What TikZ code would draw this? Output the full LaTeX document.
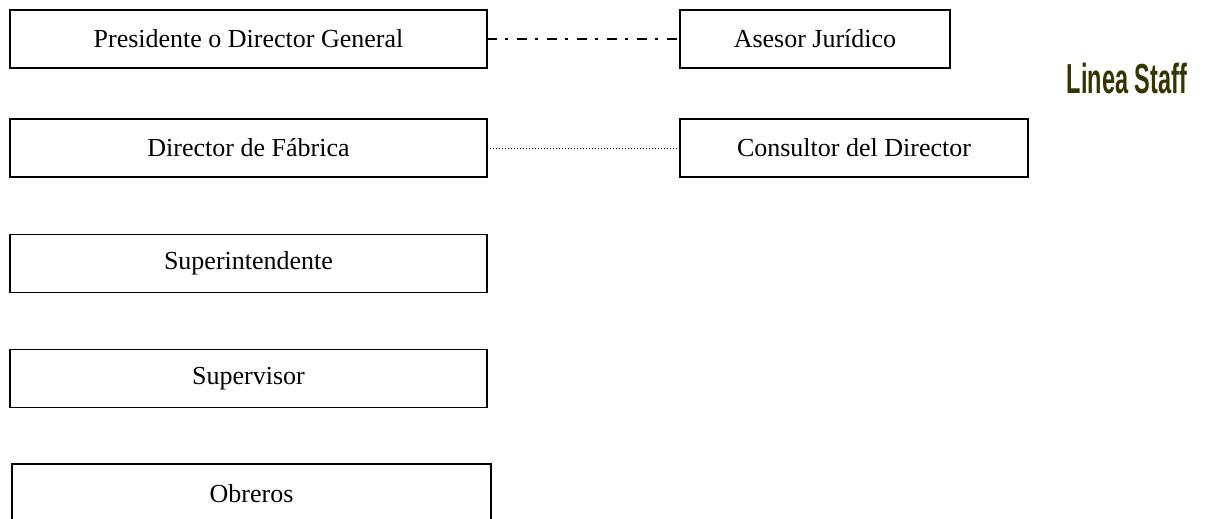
\documentclass[tikz,border=0pt]{standalone}
\usepackage{fontspec}
\setmainfont{Liberation Serif}
\newfontfamily\stafffont{Liberation Sans}
\definecolor{staffolive}{RGB}{55,52,0}
\begin{document}
\begin{tikzpicture}[x=1pt,y=-1pt,
  orgbox/.style={draw=black, line width=1.6pt, inner sep=0pt, outer sep=0pt,
    minimum height=58pt, font=\fontsize{26}{30}\selectfont},
  wide/.style={orgbox, minimum width=477pt},
  dashdotline/.style={line width=2pt, dash pattern=on 10pt off 8pt on 3pt off 9pt},
  dotline/.style={line width=0.9pt, dash pattern=on 1pt off 2pt}]
  \useasboundingbox (0,0) rectangle (1205,519);
  \clip (0,0) rectangle (1205,519);

  % line boxes
  \node[wide] (pres) at (248.5,39) {Presidente o Director General};
  \node[wide] (fab) at (248.5,148) {Director de Fábrica};
  \node[wide] (super) at (248.5,263.5) {Superintendente};
  \node[wide] (superv) at (248.5,378.5) {Supervisor};
  % bottom box runs past the lower edge
  \node[orgbox, minimum width=479pt, minimum height=60pt] (obreros) at (251.5,494) {Obreros};

  % staff boxes
  \node[orgbox, minimum width=270pt] (asesor) at (815,39) {Asesor Jurídico};
  \node[orgbox, minimum width=348pt] (consultor) at (854,148) {Consultor del Director};

  % staff links
  \draw[dashdotline] (pres.east) -- (asesor.west);
  \draw[dotline] (fab.east) -- (consultor.west);

  % label
  \node[text=staffolive, font=\stafffont\bfseries\fontsize{42}{46}\selectfont, inner sep=0pt]
    (stafflabel) at (1127,78) {\scalebox{0.56}[1]{Linea Staff}};
\end{tikzpicture}
\end{document}
